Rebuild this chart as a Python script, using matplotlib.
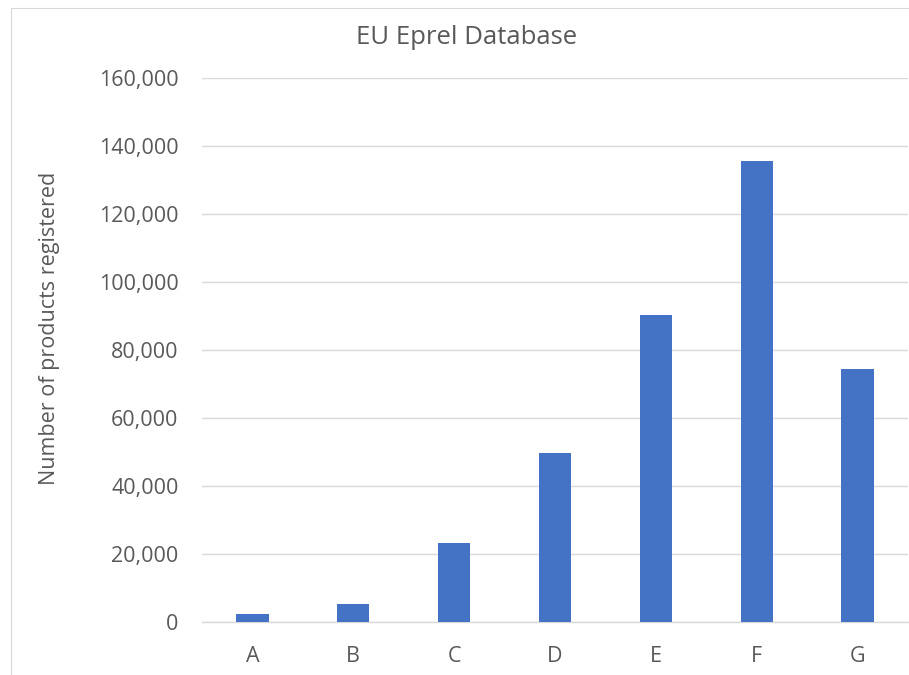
import matplotlib
matplotlib.use("Agg")
import matplotlib.pyplot as plt
from matplotlib.ticker import FuncFormatter, MultipleLocator
from matplotlib.patches import Rectangle

categories = ["A", "B", "C", "D", "E", "F", "G"]
values = [2400, 5400, 23300, 49900, 90400, 135600, 74600]
title = "EU Eprel Database"
ylabel = "Number of products registered"

plt.rcParams['font.family'] = ['Open Sans', 'DejaVu Sans']

fig = plt.figure(figsize=(9.09, 6.75), dpi=100)
fig.patch.set_facecolor("white")
fig.add_artist(Rectangle((11/909, 1-690/675), 920/909, 682/675, transform=fig.transFigure,
                         fill=False, edgecolor="#D9D9D9", linewidth=0.8))

ax = fig.add_axes([202/909, 1-622.3/675, 706/909, (622.3-78)/675])
x = range(len(categories))
ax.bar(x, values, width=0.32, color="#4472C4", zorder=3)
ax.set_xlim(-0.5, len(categories)-0.5)
ax.set_ylim(0, 160000)
ax.yaxis.set_major_locator(MultipleLocator(20000))
ax.yaxis.set_major_formatter(FuncFormatter(lambda v, p: f"{int(v):,}"))
ax.set_xticks(list(x))
ax.set_xticklabels(categories)
ax.grid(axis="y", color="#D9D9D9", linewidth=1, zorder=0)
for s in ["top", "right", "left"]:
    ax.spines[s].set_visible(False)
ax.spines["bottom"].set_color("#D9D9D9")
ax.spines["bottom"].set_linewidth(1)
ax.tick_params(axis="both", length=0, labelsize=15.5, colors="#595959")
ax.tick_params(axis="x", pad=17)
ax.tick_params(axis="y", pad=17)
fig.text(50/909, 1-328/675, ylabel, rotation=90, ha="center", va="center", fontsize=15.5, color="#595959")
fig.text(467/909, 1-38/675, title, ha="center", va="center", fontsize=18.5, color="#595959")

fig.savefig("out.png", dpi=100)
